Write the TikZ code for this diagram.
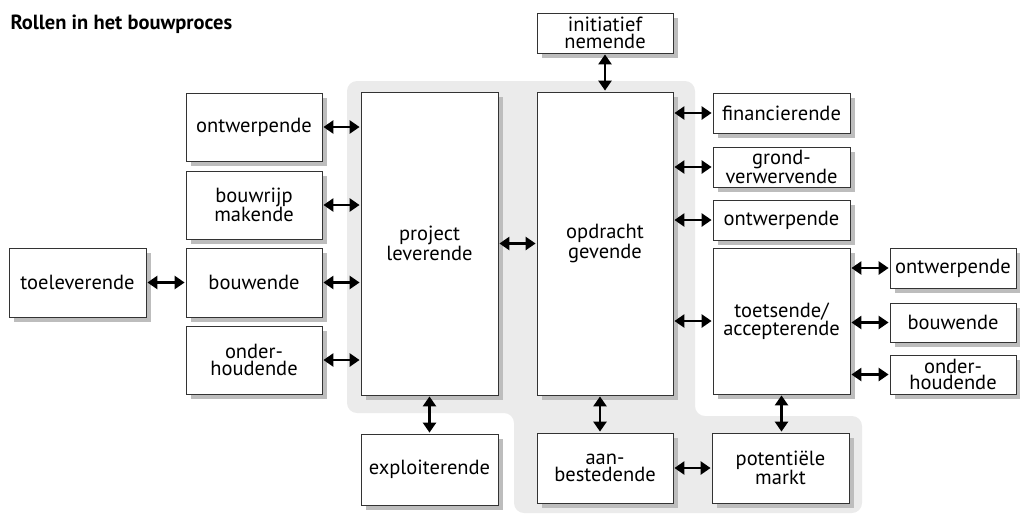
\documentclass[tikz,border=0pt]{standalone}
\usepackage{fontspec}
\setmainfont{PT Sans}
\usetikzlibrary{arrows.meta,shadows,calc}
\definecolor{bggray}{HTML}{EBEBEB}
\definecolor{shadowgray}{HTML}{BDBDBD}
\definecolor{edgegray}{HTML}{333333}
\begin{document}
\begin{tikzpicture}[x=1pt,y=-1pt,
  role/.style={draw=edgegray, line width=0.8pt, fill=white, inner sep=0pt,
    align=center, font=\fontsize{20.5}{16.5}\selectfont,
    drop shadow={shadow xshift=4.5pt, shadow yshift=-4.5pt, fill=shadowgray, opacity=1}},
  link/.style={line width=2.7pt, {Triangle[length=10pt,width=13pt]}-{Triangle[length=10pt,width=13pt]},
    shorten <=1pt, shorten >=1pt},
]
\useasboundingbox (0,0) rectangle (1020,515);

% shaded band behind the central roles
\fill[bggray, rounded corners=10pt]
  (347,81) -- (695,81) -- (695,416) -- (862,416) -- (862,513)
  -- (514,513) -- (514,413) -- (347,413) -- cycle;

\node[anchor=base west, font=\fontsize{20.5}{22}\selectfont\bfseries] (title) at (7,29) {Rollen in het bouwproces};

% left column
\node[role, minimum width=137pt, minimum height=69pt] (toel) at (77.5,282.5) {toeleverende};
\node[role, minimum width=136pt, minimum height=68pt] (ontwA) at (254,127) {ontwerpende};
\node[role, minimum width=136pt, minimum height=68pt] (bouwrijp) at (254,205) {bouwrijp\\makende};
\node[role, minimum width=136pt, minimum height=69pt] (bouwA) at (254,282.5) {bouwende};
\node[role, minimum width=136pt, minimum height=68pt] (onderA) at (254,360) {onder-\\houdende};

% central roles
\node[role, minimum width=137pt, minimum height=303pt] (project) at (429.5,243.5) {project\\leverende};
\node[role, minimum width=136pt, minimum height=303pt] (opdracht) at (605,243.5) {opdracht\\gevende};
\node[role, minimum width=136pt, minimum height=40pt] (init) at (605,33) {initiatief\\nemende};

% right column
\node[role, minimum width=137pt, minimum height=40pt] (fin) at (781.5,113) {financierende};
\node[role, minimum width=137pt, minimum height=40pt] (grond) at (781.5,167) {grond-\\verwervende};
\node[role, minimum width=137pt, minimum height=40pt] (ontwB) at (781.5,220) {ontwerpende};
\node[role, minimum width=137pt, minimum height=146pt] (toets) at (781.5,321) {toetsende/\\accepterende};

% far right column
\node[role, minimum width=126pt, minimum height=40pt] (ontwC) at (953,268) {ontwerpende};
\node[role, minimum width=126pt, minimum height=39pt] (bouwC) at (953,322.5) {bouwende};
\node[role, minimum width=126pt, minimum height=39pt] (onderC) at (953,374.5) {onder-\\houdende};

% bottom row
\node[role, minimum width=137pt, minimum height=71pt] (expl) at (429.5,469.5) {exploiterende};
\node[role, minimum width=136pt, minimum height=70pt] (aanb) at (605,468) {aan-\\bestedende};
\node[role, minimum width=137pt, minimum height=70pt] (markt) at (780.5,468) {potentiële\\markt};

% connections
\draw[link] (toel.east) -- (bouwA.west);
\foreach \n in {ontwA,bouwrijp,bouwA,onderA}
  \draw[link] (\n.east) -- (\n.east -| project.west);
\draw[link] (project.east) -- (opdracht.west);
\foreach \n in {fin,grond,ontwB,toets}
  \draw[link] (opdracht.east |- \n.west) -- (\n.west);
\foreach \n in {ontwC,bouwC,onderC}
  \draw[link] (toets.east |- \n.west) -- (\n.west);
\draw[link] (init.south) -- (opdracht.north);
\draw[link] (project.south) -- (expl.north);
\draw[link] ($(opdracht.south)+(-5,0)$) -- ($(aanb.north)+(-5,0)$);
\draw[link] (toets.south) -- (markt.north -| toets.south);
\draw[link] (aanb.east) -- (markt.west);
\end{tikzpicture}
\end{document}
